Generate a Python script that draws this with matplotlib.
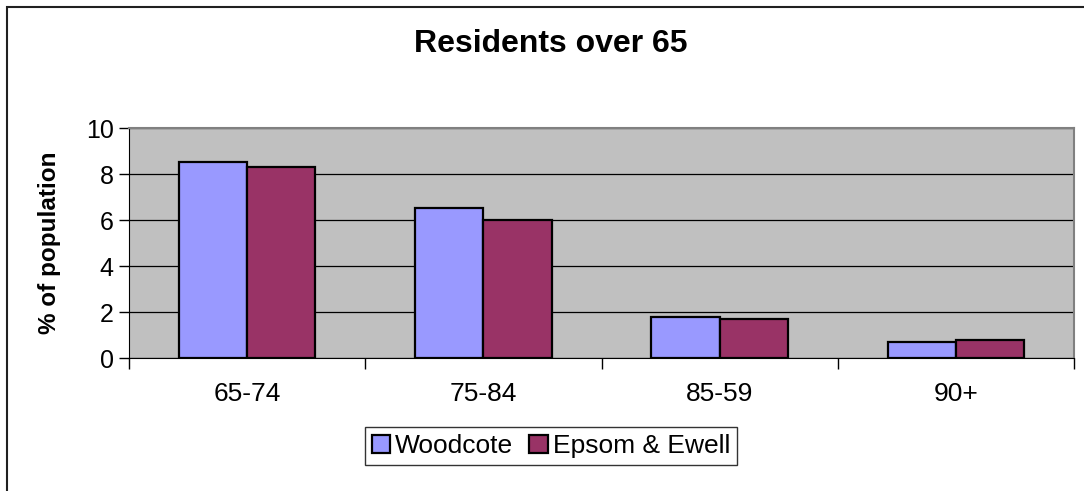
import numpy as np
import matplotlib
matplotlib.use("Agg")
import matplotlib.pyplot as plt
from matplotlib.patches import Rectangle

plt.rcParams['font.family'] = ['Liberation Sans', 'DejaVu Sans']

age_groups = ['65-74', '75-84', '85-59', '90+']
woodcote = [8.5, 6.5, 1.8, 0.7]
epsom_ewell = [8.3, 6.0, 1.7, 0.8]
series_names = ['Woodcote', 'Epsom & Ewell']
colors = ['#9999FF', '#993366']

fig = plt.figure(figsize=(10.84, 4.91), dpi=100)
ax = fig.add_axes([129/1084, 1-358/491, (1074-129)/1084, (358-128)/491])

# outer chart border (only top and left edges are visible in the original)
fig.patches.append(Rectangle((7/1084, -0.2), 1.2, 1.2-7/491, transform=fig.transFigure,
                             fill=False, edgecolor='#202020', linewidth=1.5))

x = np.arange(len(age_groups))
w = 0.289
ax.bar(x - w/2, woodcote, w, color=colors[0], edgecolor='black', linewidth=1.6,
       label=series_names[0], zorder=3)
ax.bar(x + w/2, epsom_ewell, w, color=colors[1], edgecolor='black', linewidth=1.6,
       label=series_names[1], zorder=3)

ax.set_facecolor('#C0C0C0')
ax.set_xlim(-0.5, 3.5)
ax.set_ylim(0, 10)
ax.set_yticks([0, 2, 4, 6, 8, 10])
ax.yaxis.grid(True, color='black', linewidth=0.9, zorder=1)
ax.set_axisbelow(True)

ax.set_xticks(x)
ax.set_xticklabels(age_groups, fontsize=19)
ax.tick_params(axis='x', length=0, pad=17)
ax.set_xticks(np.arange(-0.5, 4, 1), minor=True)
ax.tick_params(axis='x', which='minor', length=8, direction='out', color='black', width=1)
ax.tick_params(axis='y', labelsize=18, length=7, width=1, pad=4)

for side in ['top', 'right']:
    ax.spines[side].set_color('#808080')
    ax.spines[side].set_linewidth(1.5)
ax.spines['left'].set_color('black')
ax.spines['bottom'].set_color('black')

ax.set_ylabel('% of population', fontsize=17.5, fontweight='bold', labelpad=18)
fig.text(551/1084, 1-44/491, 'Residents over 65', ha='center', va='center',
         fontsize=23, fontweight='bold')

leg = fig.legend(loc='center', bbox_to_anchor=(551/1084, 1-446/491), ncol=2,
                 fontsize=19, frameon=True, fancybox=False, edgecolor='black',
                 handlelength=0.7, handleheight=0.7, handletextpad=0.2,
                 columnspacing=0.6, borderpad=0.25, borderaxespad=0)
leg.get_frame().set_linewidth(1)

fig.savefig('out.png', dpi=100)
